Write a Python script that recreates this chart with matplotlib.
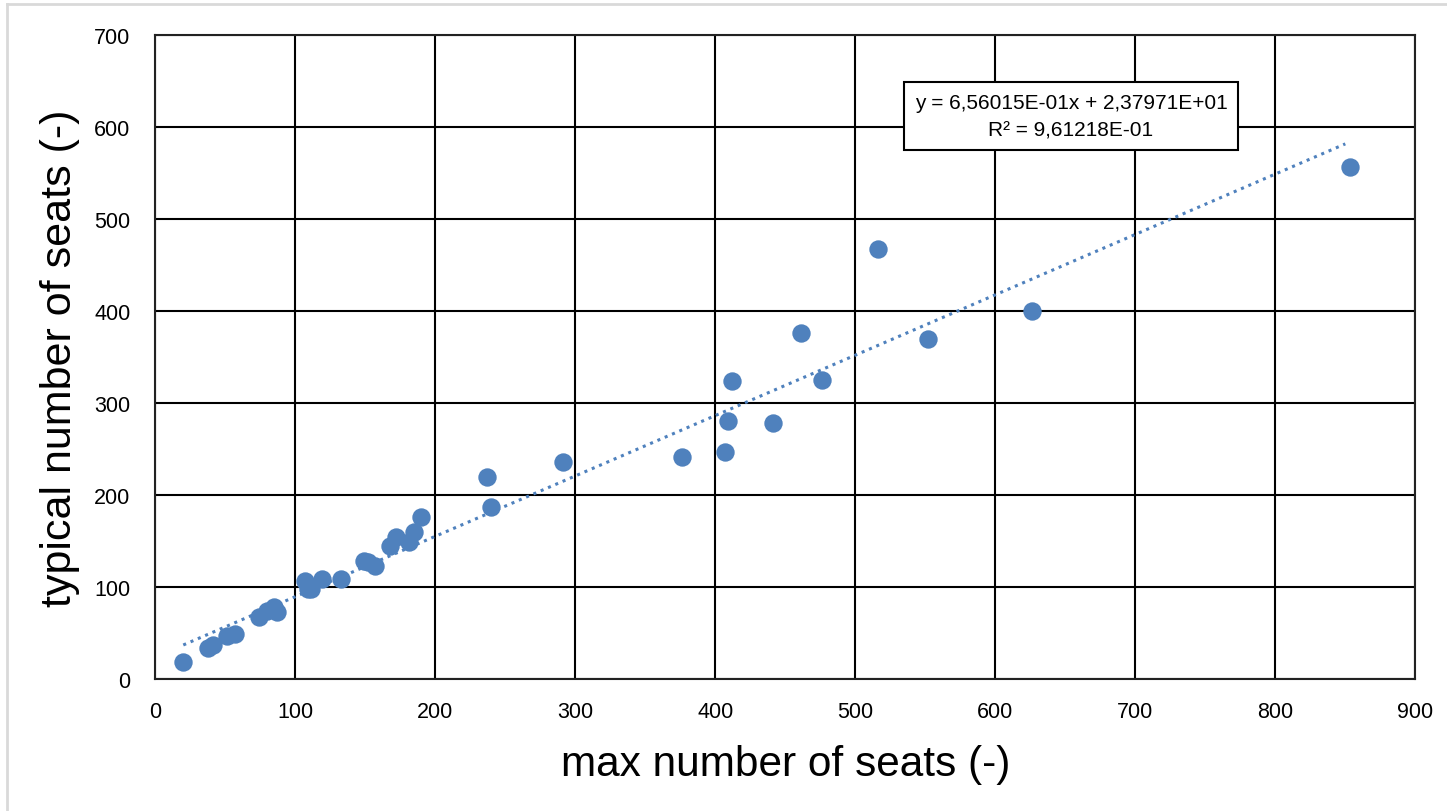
import numpy as np
import matplotlib
matplotlib.use("Agg")
import matplotlib.pyplot as plt
from matplotlib.lines import Line2D

# max seats vs typical seats per aircraft type
max_seats = [20, 38, 41, 51, 57, 74, 80, 85, 87, 107, 109, 111, 119, 133,
             149, 152, 157, 168, 172, 181, 185, 190, 237, 240, 291, 376,
             407, 409, 412, 441, 461, 476, 516, 552, 626, 853]
typ_seats = [18, 34, 37, 47, 49, 67, 74, 78, 73, 106, 98, 98, 109, 109,
             128, 127, 123, 145, 154, 149, 160, 176, 219, 187, 236, 241,
             247, 280, 324, 278, 376, 325, 467, 369, 400, 556]

# linear trend line coefficients
slope = 6.56015e-01
intercept = 2.37971e+01
r2 = 9.61218e-01

xticks = list(range(0, 1000, 100))
yticks = list(range(0, 800, 100))

blue = "#4F81BD"
plt.rcParams['font.family'] = ['Liberation Sans', 'DejaVu Sans']

fig = plt.figure(figsize=(14.47, 8.12), dpi=100)
ax = fig.add_axes([0.1073, 0.1626, 0.8708, 0.7934])

ax.scatter(max_seats, typ_seats, s=175, color=blue, zorder=3, linewidths=0)

xt = np.array([min(max_seats), 850])
ax.plot(xt, slope * xt + intercept, color=blue, lw=2.2,
        linestyle=(0, (1, 1.6)), zorder=2)

ax.set_xlim(0, 900)
ax.set_ylim(0, 700)
ax.set_xticks(xticks)
ax.set_yticks(yticks)
ax.tick_params(length=0, labelsize=15.5)
ax.tick_params(axis="x", pad=16)
ax.tick_params(axis="y", pad=18)
ax.grid(True, color="black", lw=1.5)
ax.set_axisbelow(True)
for s in ax.spines.values():
    s.set_linewidth(1.5)
    s.set_color("#222222")

ax.set_xlabel("max number of seats (-)", fontsize=30.5, labelpad=16)
ax.set_ylabel("typical number of seats (-)", fontsize=31, labelpad=10)

eq = "y = {}x + {}\nR² = {}".format(
    "6,56015E-01", "2,37971E+01", "9,61218E-01")
ax.text(1071 / 1447, 1 - 117 / 812, eq, transform=fig.transFigure,
        ha="center", va="center", fontsize=15, linespacing=1.55,
        bbox=dict(boxstyle="square,pad=0.5", fc="white", ec="black", lw=1.5),
        zorder=5)

# chart frame edges
fig.add_artist(Line2D([7 / 1447, 1], [1 - 5 / 812] * 2, color="#d9d9d9", lw=2,
                      transform=fig.transFigure))
fig.add_artist(Line2D([7 / 1447] * 2, [0, 1 - 5 / 812], color="#d9d9d9", lw=2,
                      transform=fig.transFigure))

fig.savefig("out.png", dpi=100)
